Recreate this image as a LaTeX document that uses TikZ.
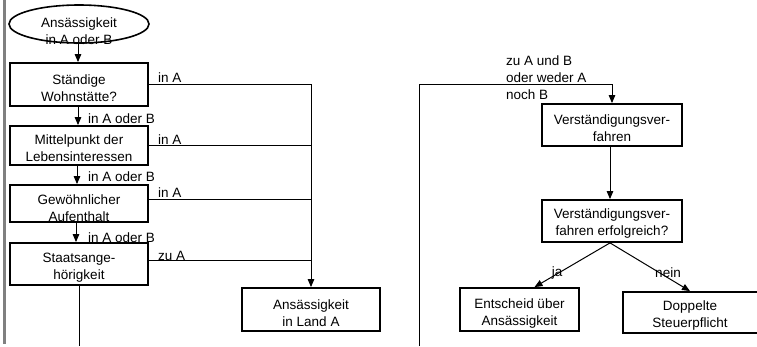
\documentclass[tikz,border=0pt]{standalone}
\usepackage{fontspec}
\setmainfont{Liberation Sans}
\usetikzlibrary{shapes.geometric,arrows.meta}
\begin{document}
\begin{tikzpicture}[x=1pt,y=-1pt,
  box/.style={draw, line width=1.8pt, inner sep=0pt},
  txt/.style={font=\fontsize{13.5}{17}\selectfont, align=center, inner sep=0pt},
  lbl/.style={font=\fontsize{13.5}{17}\selectfont, inner sep=0pt},
  conn/.style={line width=1pt},
  arr/.style={conn, -{Triangle[width=6.5pt,length=8pt]}}]
\useasboundingbox (0,0) rectangle (757,346);

% page margin rule
\draw[line width=3pt, black!50] (4,0) -- (4,344);

% ---- left column: tie-breaker tests ----
\node[draw, ellipse, line width=1.6pt, minimum width=140pt, minimum height=38pt, inner sep=0pt] (start) at (79,24) {};
\node[txt] (tstart) at (79,31) {Ansässigkeit\\in A oder B};

\node[box, minimum width=138pt, minimum height=43pt] (b1) at (79,84.5) {};
\node[txt] (t1) at (79,88) {Ständige\\Wohnstätte?};

\node[box, minimum width=138pt, minimum height=39pt] (b2) at (79,145.5) {};
\node[txt] (t2) at (79,148.5) {Mittelpunkt der\\Lebensinteressen};

\node[box, minimum width=138pt, minimum height=37pt] (b3) at (79,203.5) {};
\node[txt] (t3) at (79,208) {Gewöhnlicher\\Aufenthalt};

\node[box, minimum width=138pt, minimum height=42pt] (b4) at (79,264) {};
\node[txt] (t4) at (79,268) {Staatsange-\\hörigkeit};

\node[box, minimum width=138pt, minimum height=43pt] (b5) at (311,309.5) {};
\node[txt] (t5) at (311,313.5) {Ansässigkeit\\in Land A};

% downward steps
\draw[arr] ([xshift=-1pt]start.south) -- ([xshift=-1pt]b1.north);
\draw[arr] ([xshift=-1pt]b1.south) -- ([xshift=-1pt]b2.north);
\draw[arr] ([xshift=-2pt]b2.south) -- ([xshift=-2pt]b3.north);
\draw[arr] ([xshift=-3pt]b3.south) -- ([xshift=-3pt]b4.north);
\coordinate (e4) at (79,346);
\draw[conn] (b4.south) -- (e4);

\node[lbl, anchor=west] (l1) at (88,119) {in A oder B};
\node[lbl, anchor=west] (l2) at (88,177) {in A oder B};
\node[lbl, anchor=west] (l3) at (88,238) {in A oder B};

% branches to country A
\coordinate (h1) at (311,84);
\coordinate (h2) at (311,145);
\coordinate (h3) at (311,199);
\coordinate (h4) at (311,260);
\draw[conn] (b1.east |- h1) -- (h1);
\draw[conn] (b2.east |- h2) -- (h2);
\draw[conn] (b3.east |- h3) -- (h3);
\draw[conn] (b4.east |- h4) -- (h4);
\draw[arr] (h1) -- (b5.north);

\node[lbl, anchor=west] (a1) at (158,78) {in A};
\node[lbl, anchor=west] (a2) at (158,140) {in A};
\node[lbl, anchor=west] (a3) at (158,193) {in A};
\node[lbl, anchor=west] (a4) at (158,256) {zu A};

% ---- right column: mutual agreement procedure ----
\node[box, minimum width=140pt, minimum height=42pt] (b6) at (612,125) {};
\node[txt] (t6) at (612,128.5) {Verständigungsver-\\fahren};

\node[box, minimum width=140pt, minimum height=42pt] (b7) at (612,221) {};
\node[txt] (t7) at (612,223.5) {Verständigungsver-\\fahren erfolgreich?};

\node[box, minimum width=119pt, minimum height=43pt] (b8) at (519.5,309.5) {};
\node[txt] (t8) at (519.5,313.5) {Entscheid über\\Ansässigkeit};

\node[box, minimum width=136pt, minimum height=41pt] (b9) at (691,312.5) {};
\node[txt] (t9) at (690,316) {Doppelte\\Steuerpflicht};

\coordinate (r0) at (419,346);
\coordinate (r1) at (419,84);
\draw[arr] (r0) -- (r1) -| (b6.north);
\node[lbl, anchor=west, align=left] (lr) at (506,78) {zu A und B\\oder weder A\\noch B};

\draw[arr] ([xshift=-2pt]b6.south) -- ([xshift=-2pt]b7.north);
\draw[arr] ([xshift=-2pt]b7.south) -- ([xshift=15pt]b8.north);
\draw[arr] ([xshift=-2pt]b7.south) -- ([xshift=-1pt]b9.north);

\node[lbl] (ja) at (557,273) {ja};
\node[lbl] (nein) at (668,273) {nein};
\end{tikzpicture}
\end{document}
